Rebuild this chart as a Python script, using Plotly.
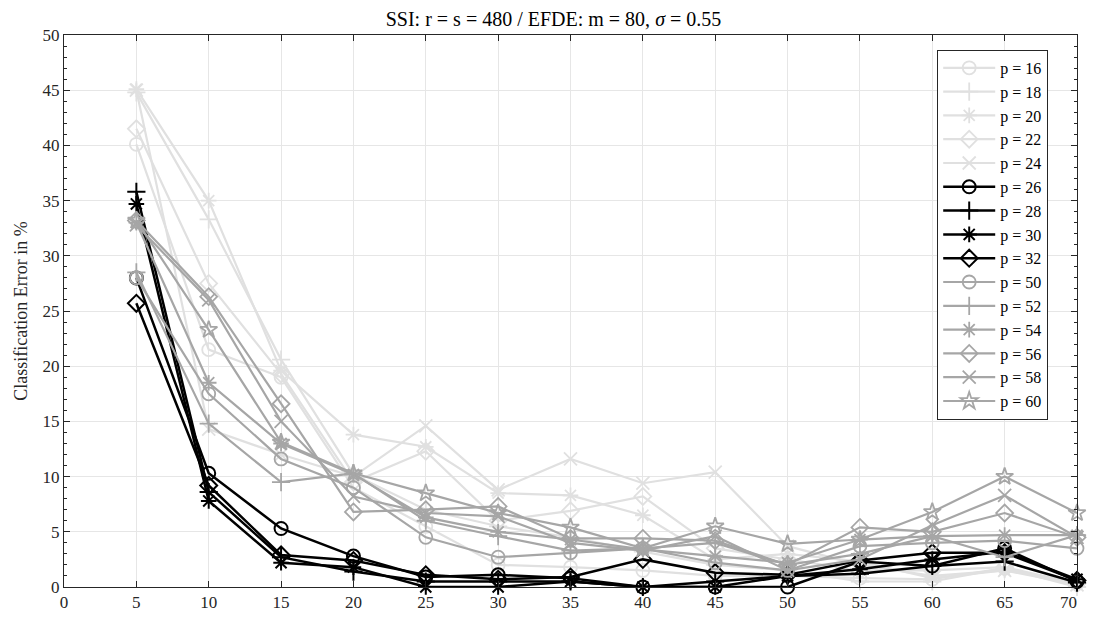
import plotly.graph_objects as go

x_vals = [5, 10, 15, 20, 25, 30, 35, 40, 45, 50, 55, 60, 65, 70]
x_tick_vals = [0, 5, 10, 15, 20, 25, 30, 35, 40, 45, 50, 55, 60, 65, 70]
x_tick_text = ["0", "5", "10", "15", "20", "25", "30", "35", "40", "45", "50", "55", "60", "65",
               "70\u2002\u2002"]

p_labels = ["p = 16", "p = 18", "p = 20", "p = 22", "p = 24",
            "p = 26", "p = 28", "p = 30", "p = 32",
            "p = 50", "p = 52", "p = 54", "p = 56", "p = 58", "p = 60"]

# light gray group
p16 = [40.1, 21.5, 19.0, 9.0, 5.5, 2.0, 1.8, 1.5, 1.0, 1.0, 0.8, 0.7, 1.7, 0.3]
p18 = [44.8, 33.3, 20.6, 10.2, 7.0, 5.5, 4.5, 3.2, 2.0, 1.5, 0.5, 0.5, 1.7, 0.0]
p20 = [45.1, 35.0, 19.6, 13.8, 12.7, 8.5, 8.3, 6.5, 2.5, 3.0, 2.3, 0.8, 1.5, 0.5]
p22 = [41.5, 27.5, 19.3, 9.5, 12.3, 6.0, 6.9, 8.2, 3.5, 2.5, 1.5, 1.5, 1.8, 0.3]
p24 = [45.0, 14.3, 12.0, 10.0, 14.6, 8.8, 11.6, 9.4, 10.4, 3.7, 2.0, 1.0, 1.5, 0.2]
# black group
p26 = [28.0, 10.3, 5.3, 2.8, 0.9, 1.1, 0.8, 0.0, 0.0, 0.0, 2.3, 1.9, 3.5, 0.5]
p28 = [35.8, 8.6, 2.7, 1.4, 0.5, 0.5, 0.5, 0.0, 0.5, 1.0, 1.2, 1.9, 2.3, 0.4]
p30 = [34.7, 7.8, 2.2, 1.8, 0.0, 0.0, 0.5, 0.0, 0.0, 1.0, 1.6, 2.5, 3.2, 0.7]
p32 = [25.7, 9.2, 2.9, 2.4, 1.1, 0.7, 0.9, 2.5, 1.3, 1.1, 2.4, 3.1, 3.1, 0.6]
# mid gray group
p50 = [28.0, 17.5, 11.6, 9.0, 4.5, 2.7, 3.1, 3.5, 2.2, 1.5, 3.7, 4.0, 4.2, 3.5]
p52 = [28.5, 14.8, 9.5, 10.3, 6.0, 4.6, 3.3, 3.5, 4.0, 2.0, 3.0, 4.6, 2.7, 4.7]
p54 = [33.0, 18.5, 13.0, 10.2, 6.3, 5.0, 4.3, 3.4, 2.8, 2.2, 4.3, 4.6, 4.7, 4.7]
p56 = [33.2, 26.3, 16.6, 6.8, 7.0, 7.3, 4.4, 4.4, 4.2, 2.0, 5.4, 5.0, 6.7, 4.5]
p58 = [32.8, 26.0, 15.0, 8.2, 6.7, 6.4, 4.0, 3.3, 4.6, 1.5, 2.5, 5.6, 8.3, 4.5]
p60 = [33.2, 23.3, 13.1, 10.3, 8.5, 6.7, 5.4, 3.5, 5.5, 3.9, 4.3, 6.8, 10.0, 6.7]

series = [p16, p18, p20, p22, p24, p26, p28, p30, p32, p50, p52, p54, p56, p58, p60]

LIGHT = "#e0e0e0"
BLACK = "#000000"
MID = "#a6a6a6"
colors = [LIGHT] * 5 + [BLACK] * 4 + [MID] * 6
symbols = ["circle-open", "cross-thin-open", "asterisk-open", "diamond-open", "x-thin-open",
           "circle-open", "cross-thin-open", "asterisk-open", "diamond-open",
           "circle-open", "cross-thin-open", "asterisk-open", "diamond-open", "x-thin-open", "star-open"]

FONT = "Liberation Serif"

fig = go.Figure()
for name, ys, col, sym in zip(p_labels, series, colors, symbols):
    fig.add_trace(go.Scatter(
        x=x_vals, y=ys, name=name, mode="lines+markers", cliponaxis=False,
        line=dict(color=col, width=2.5 if col == BLACK else 2.2),
        marker=dict(symbol=sym, size=13, color=col,
                    line=dict(color=col, width=2 if col == BLACK else 1.8)),
    ))

# page body has an 8px margin, so the figure is offset by 8px
fig.update_layout(
    width=1091, height=609,
    margin=dict(l=56, r=5, t=27, b=30),
    paper_bgcolor="white", plot_bgcolor="white",
    font=dict(family=FONT, size=17, color="#262626"),
    title=dict(text="SSI: r = s = 480 / EFDE: m = 80, <i>σ</i> = 0.55",
               x=0.5, xanchor="center", y=0.993, yanchor="top",
               font=dict(family=FONT, size=20, color="#000000")),
    showlegend=True,
    legend=dict(x=0.862, y=0.973, xanchor="left", yanchor="top",
                bgcolor="white", bordercolor="#262626", borderwidth=1,
                font=dict(family=FONT, size=16, color="#000000"),
                tracegroupgap=0, itemwidth=52),
)
fig.update_xaxes(range=[0, 70], tickvals=x_tick_vals, ticktext=x_tick_text,
                 showgrid=True, gridcolor="#e6e6e6",
                 gridwidth=1, zeroline=False, showline=True, linecolor="#262626",
                 linewidth=1, mirror="ticks", ticks="inside", ticklen=6,
                 ticklabeloverflow="allow",
                 tickcolor="#262626", tickfont=dict(family=FONT, size=17, color="#262626"))
fig.update_yaxes(range=[0, 50], dtick=5, tick0=0, showgrid=True, gridcolor="#e6e6e6",
                 gridwidth=1, zeroline=False, showline=True, linecolor="#262626",
                 linewidth=1, mirror="ticks", ticks="inside", ticklen=6,
                 tickcolor="#262626", tickfont=dict(family=FONT, size=17, color="#262626"),
                 minor=dict(dtick=1, ticks="inside", ticklen=3, tickcolor="#262626", showgrid=False),
                 title=dict(text="Classification Error in %", standoff=10,
                            font=dict(family=FONT, size=18, color="#262626")))

fig.write_html("out.html")
